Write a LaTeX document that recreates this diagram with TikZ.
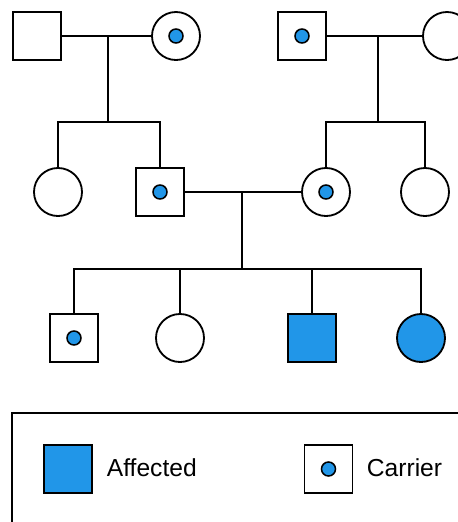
\documentclass[tikz,border=0pt]{standalone}
\usepackage{fontspec}
\setmainfont{Liberation Sans}
\usetikzlibrary{positioning}
\definecolor{affblue}{RGB}{33,150,232}
\tikzset{
  male/.style      ={rectangle,draw,fill=white,minimum size=1.2cm,
                     inner sep=0pt,line width=1.3pt},
  female/.style    ={circle,draw,fill=white,minimum size=1.2cm,
                     inner sep=0pt,line width=1.3pt},
  affected/.style  ={fill=affblue},
  carrierdot/.style={circle,draw,fill=affblue,minimum size=0.35cm,
                     inner sep=0pt,line width=1.1pt},
  keytext/.style   ={anchor=base west,inner sep=0pt,
                     font=\fontsize{17.5pt}{21pt}\selectfont}
}

\begin{document}
\begin{tikzpicture}[x=0.025cm, y=-0.025cm, line width=1.3pt]
  \useasboundingbox (0,0) rectangle (458,522);
  \clip (0,0) rectangle (458,522);

  % Generation I
  \node (gf1) at (37,36)  [male] {};
  \node (gm1) at (176,36) [female] {};
  \node (gf2) at (302,36) [male] {};
  \node (gm2) at (447,36) [female] {};
  \node (gm1dot) at (gm1) [carrierdot] {};
  \node (gf2dot) at (gf2) [carrierdot] {};

  % Generation II
  \node (aunt1)  at (58,192)  [female] {};
  \node (father) at (160,192) [male] {};
  \node (mother) at (326,192) [female] {};
  \node (aunt2)  at (425,192) [female] {};
  \node (fatherdot) at (father) [carrierdot] {};
  \node (motherdot) at (mother) [carrierdot] {};

  % Generation III
  \node (son1) at (74,338)  [male] {};
  \node (dau1) at (180,338) [female] {};
  \node (son2) at (312,338) [male,affected] {};
  \node (dau2) at (421,338) [female,affected] {};
  \node (son1dot) at (son1) [carrierdot] {};

  % Couples and sibships
  \coordinate (m1) at (108,36);
  \coordinate (s1) at (108,122);
  \coordinate (m2) at (378,36);
  \coordinate (s2) at (378,122);
  \coordinate (m3) at (242,192);
  \coordinate (s3) at (242,269);

  \draw (gf1) -- (gm1);
  \draw (gf2) -- (gm2);
  \draw (father) -- (mother);
  \draw (m1) -- (s1);
  \draw (m2) -- (s2);
  \draw (m3) -- (s3);
  \draw (aunt1) |- (s1) -| (father);
  \draw (mother) |- (s2) -| (aunt2);
  \draw (son1) |- (s3) -| (dau2);
  \draw (dau1) -- (dau1 |- s3);
  \draw (son2) -- (son2 |- s3);

  % Key
  \draw (12,413) rectangle (490,560);
  \node (keyaff) at (68,469)    [male,affected] {};
  \node (keycar) at (328.5,469) [male] {};
  \node (keycardot) at (keycar) [carrierdot] {};
  \node (keyafftext) at (106,476) [keytext] {Affected};
  \node (keycartext) at (366,476) [keytext] {Carrier};
\end{tikzpicture}
\end{document}
